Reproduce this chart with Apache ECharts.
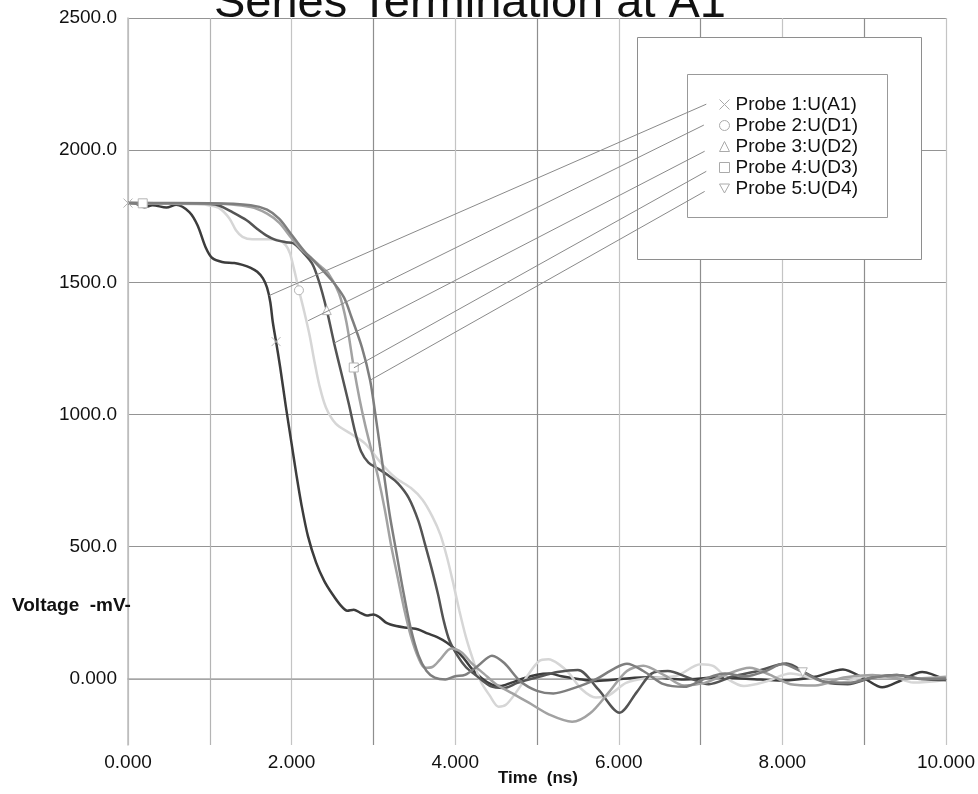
<!doctype html>
<html>
<head>
<meta charset="UTF-8">
<title>Series Termination at A1</title>
<script src="https://cdn.jsdelivr.net/npm/echarts@6/dist/echarts.min.js"></script>
<style>
  html, body { margin: 0; padding: 0; background: #fff; }
  #main { width: 978px; height: 794px; }
</style>
</head>
<body>
<div id="main"></div>
<script type="text/javascript">
// probe waveforms, [time ns, voltage mV]
var probe1 = [[0,1800],[0.1,1797],[0.2,1784],[0.3,1792],[0.47,1783],[0.59,1794],[0.75,1766],[0.85,1716],[0.95,1632],[1.03,1592],[1.15,1577],[1.3,1573],[1.4,1566],[1.5,1555],[1.58,1540],[1.65,1515],[1.7,1480],[1.74,1425],[1.77,1350],[1.81,1276],[1.86,1180],[1.93,1030],[2.0,890],[2.06,770],[2.12,660],[2.2,540],[2.3,440],[2.4,370],[2.5,320],[2.6,278],[2.68,258],[2.76,262],[2.84,250],[2.92,240],[3.0,244],[3.08,232],[3.16,212],[3.28,200],[3.42,193],[3.55,187],[3.66,172],[3.78,158],[3.9,137],[4.0,112],[4.1,80],[4.2,40],[4.32,4],[4.45,-22],[4.55,-27],[4.68,-15],[4.85,4],[5.0,16],[5.15,20],[5.3,10],[5.5,0],[5.7,-8],[5.9,-4],[6.1,2],[6.4,6],[6.8,-2],[7.2,5],[7.6,0],[8.0,-6],[8.4,8],[8.74,36],[9.0,2],[9.22,-32],[9.45,-6],[9.71,26],[10,-6]];
var probe2 = [[0,1800],[0.5,1798],[0.9,1795],[1.0,1791],[1.12,1780],[1.24,1742],[1.32,1697],[1.4,1672],[1.52,1663],[1.73,1663],[1.85,1659],[1.93,1640],[1.98,1610],[2.03,1550],[2.09,1470],[2.15,1395],[2.22,1300],[2.28,1200],[2.34,1110],[2.42,1027],[2.54,966],[2.72,928],[2.9,890],[3.1,814],[3.27,761],[3.46,722],[3.6,678],[3.72,615],[3.82,545],[3.9,460],[3.97,370],[4.05,260],[4.13,160],[4.21,80],[4.31,-8],[4.42,-62],[4.53,-105],[4.62,-98],[4.74,-53],[4.88,10],[5.02,66],[5.14,74],[5.27,55],[5.39,22],[5.55,-40],[5.72,-70],[5.88,-62],[6.09,-15],[6.38,4],[6.71,12],[7.0,55],[7.16,48],[7.33,0],[7.53,-27],[7.8,-10],[8.1,20],[8.4,0],[8.7,-15],[9.0,10],[9.3,14],[9.6,-14],[10,-4]];
var probe3 = [[0,1800],[0.6,1799],[1.0,1796],[1.12,1790],[1.28,1765],[1.45,1735],[1.57,1705],[1.69,1678],[1.81,1660],[1.93,1652],[2.02,1648],[2.12,1620],[2.25,1572],[2.33,1508],[2.43,1395],[2.52,1270],[2.61,1155],[2.7,1040],[2.78,930],[2.85,860],[2.94,818],[3.06,795],[3.18,770],[3.3,740],[3.43,686],[3.55,598],[3.63,511],[3.71,420],[3.79,320],[3.86,220],[3.93,145],[4.03,87],[4.13,45],[4.24,17],[4.43,-27],[4.6,-34],[4.76,-15],[5.0,6],[5.25,26],[5.5,34],[5.75,-40],[6.01,-128],[6.22,-50],[6.4,20],[6.6,30],[6.85,5],[7.1,-20],[7.4,10],[7.7,30],[8.05,58],[8.3,20],[8.55,-15],[8.8,-20],[9.1,5],[9.4,15],[9.7,0],[10,-4]];
var probe4 = [[0,1800],[0.18,1799],[1.0,1798],[1.5,1785],[1.7,1760],[1.85,1725],[2.0,1667],[2.13,1621],[2.25,1590],[2.35,1562],[2.45,1534],[2.58,1458],[2.67,1350],[2.76,1178],[2.83,1060],[2.9,960],[2.98,860],[3.06,760],[3.14,640],[3.22,500],[3.3,380],[3.38,260],[3.46,160],[3.55,80],[3.63,42],[3.72,45],[3.82,75],[3.95,115],[4.08,100],[4.2,60],[4.35,20],[4.5,-20],[4.7,-55],[4.9,-90],[5.15,-135],[5.43,-162],[5.65,-130],[5.88,-50],[6.1,30],[6.3,50],[6.55,15],[6.8,-25],[7.05,-15],[7.3,15],[7.6,42],[7.85,15],[8.1,-20],[8.4,-25],[8.75,5],[9.1,15],[9.5,0],[10,8]];
var probe5 = [[0,1800],[1.0,1799],[1.5,1792],[1.7,1775],[1.85,1740],[2.0,1680],[2.15,1620],[2.3,1572],[2.49,1508],[2.64,1443],[2.73,1370],[2.86,1254],[2.96,1130],[3.02,1010],[3.08,880],[3.14,750],[3.2,620],[3.28,480],[3.36,340],[3.45,200],[3.55,90],[3.65,30],[3.75,5],[3.88,-2],[4.0,10],[4.12,15],[4.28,50],[4.45,88],[4.6,60],[4.8,-10],[5.0,-45],[5.2,-55],[5.45,-35],[5.7,-5],[5.95,40],[6.1,57],[6.3,30],[6.55,-20],[6.8,-30],[7.05,0],[7.3,20],[7.55,10],[7.8,30],[8.0,56],[8.25,25],[8.5,-10],[8.8,-15],[9.1,5],[9.4,15],[9.7,0],[10,2]];

var probeNames = ['Probe 1:U(A1)', 'Probe 2:U(D1)', 'Probe 3:U(D2)', 'Probe 4:U(D3)', 'Probe 5:U(D4)'];
var probeColors = ['#3c3c3c', '#d6d6d6', '#545454', '#a2a2a2', '#7e7e7e'];
var probeSymbols = ['path://M0,0L10,10M10,0L0,10', 'circle', 'triangle', 'rect', 'path://M0,0L10,0L5,9Z'];
// which points carry a marker
var markerIdx = [[0, 19], [14], [14], [1, 13], [44]];
// leader lines: legend end -> point on curve
var leaderFrom = [[7.07,2174],[7.04,2095],[7.05,1996],[7.07,1920],[7.05,1844]];
var leaderTo = [[1.725,1450],[2.203,1355],[2.519,1270],[2.762,1177],[2.961,1130]];

var xTicks = [0, 10, 1];
var yTicks = [-250, 2500, 250];

var myChart = echarts.init(document.getElementById('main'));
var FONT = '"Liberation Sans", Arial, sans-serif';

var probes = [probe1, probe2, probe3, probe4, probe5];
var series = probes.map(function (pts, k) {
    return {
        name: probeNames[k],
        type: 'line',
        smooth: 0.3,
        z: 4,
        showSymbol: true,
        showAllSymbol: true,
        symbol: 'none',
        lineStyle: { color: probeColors[k], width: 2.5 },
        itemStyle: { color: '#fff', borderColor: '#b4b4b4', borderWidth: 1 },
        data: pts.map(function (p, i) {
            var item = { value: p };
            if (markerIdx[k].indexOf(i) >= 0) {
                item.symbol = probeSymbols[k];
                item.symbolSize = 9;
            }
            return item;
        }),
        markLine: {
            silent: true,
            symbol: ['none', 'none'],
            label: { show: false },
            lineStyle: { color: '#8a8a8a', width: 1, type: 'solid' },
            data: [[{ coord: leaderFrom[k] }, { coord: leaderTo[k] }]]
        }
    };
});

var option = {
    animation: false,
    backgroundColor: '#fff',
    grid: { left: 128, right: 27, top: 18, bottom: 49 },
    xAxis: {
        type: 'value',
        min: xTicks[0], max: xTicks[1], interval: xTicks[2],
        axisLine: { lineStyle: { color: '#aaa', width: 1.5 } },
        axisTick: { show: false },
        axisLabel: {
            margin: 8, fontSize: 19, color: '#111', fontFamily: FONT,
            formatter: function (v) { return v % 2 === 0 ? v.toFixed(3) : ''; }
        },
        splitLine: { show: true, lineStyle: { color: ['#c4c4c4', '#b4b4b4', '#c4c4c4', '#8e8e8e', '#c4c4c4', '#8e8e8e', '#c4c4c4', '#8e8e8e', '#c4c4c4', '#8e8e8e', '#c4c4c4'], width: 1.2 } }
    },
    yAxis: {
        type: 'value',
        min: yTicks[0], max: yTicks[1], interval: yTicks[2],
        axisLine: { show: true, lineStyle: { color: '#bbb', width: 1.5 } },
        axisTick: { show: false },
        axisLabel: {
            margin: 11, fontSize: 19, color: '#111', fontFamily: FONT,
            formatter: function (v) {
                if (v % 500 !== 0) return '';
                return v === 0 ? '0.000' : v.toFixed(1);
            }
        },
        splitLine: { show: true, lineStyle: { color: ['transparent', '#949494'], width: 1.2 } }
    },
    legend: {
        orient: 'vertical',
        left: 719, top: 95,
        padding: 0,
        itemWidth: 10, itemHeight: 10, itemGap: 2,
        selectedMode: false,
        data: probeNames.map(function (n, k) { return { name: n, icon: probeSymbols[k] }; }),
        itemStyle: { color: '#fff', borderColor: '#aaa', borderWidth: 1 },
        textStyle: { fontSize: 19, lineHeight: 19, color: '#111', fontFamily: FONT, padding: [0, 0, 0, 1] }
    },
    graphic: [
        { type: 'rect', z: 3, shape: { x: 637.5, y: 37.5, width: 284, height: 222 }, style: { fill: '#fff', stroke: '#8e8e8e', lineWidth: 1 } },
        { type: 'rect', z: 3, shape: { x: 687.5, y: 74.5, width: 200, height: 143 }, style: { fill: '#fff', stroke: '#999', lineWidth: 1 } },
        { type: 'text', z: 6, x: 470, y: 4, style: { text: 'Series Termination at A1', font: '47px ' + FONT, fill: '#111', align: 'center', verticalAlign: 'middle' } },
        { type: 'text', z: 6, x: 12, y: 606, style: { text: 'Voltage  -mV-', font: 'bold 19px ' + FONT, fill: '#111', align: 'left', verticalAlign: 'middle' } },
        { type: 'text', z: 6, x: 538, y: 778, style: { text: 'Time  (ns)', font: 'bold 17px ' + FONT, fill: '#111', align: 'center', verticalAlign: 'middle' } }
    ],
    series: series
};

myChart.setOption(option);
</script>
</body>
</html>
